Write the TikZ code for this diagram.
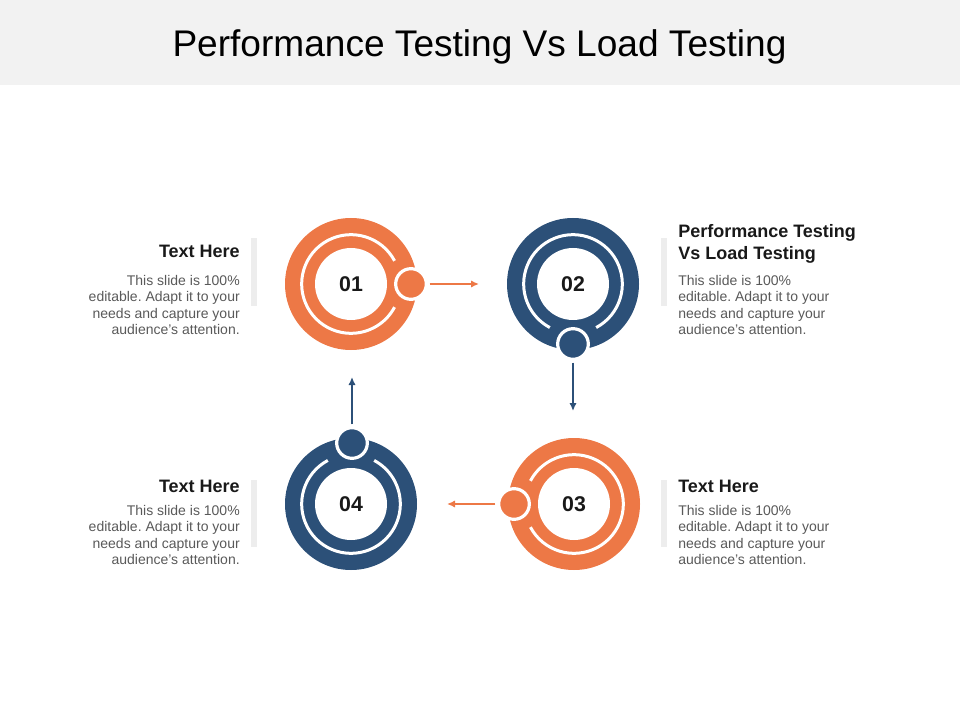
\documentclass[tikz,border=0pt]{standalone}
\usepackage{fontspec}
\setmainfont{Liberation Sans}
\usepackage{xcolor}
\usepackage{tikz}
\usetikzlibrary{calc}
\usetikzlibrary{arrows}
\usetikzlibrary{arrows.meta}
\usetikzlibrary{positioning}
\definecolor{ppOrange}{RGB}{237,120,70}
\definecolor{ppBlue}{RGB}{44,80,120}
\definecolor{ppTitle}{RGB}{242,242,242}
\definecolor{ppText}{RGB}{89,89,89}
\definecolor{ppBar}{RGB}{237,237,237}
\frenchspacing
\tikzset{>=latex}
\tikzstyle{ring} = [circle, inner sep = 0, minimum size = 99pt]
\tikzstyle{hole} = [circle, fill = white, inner sep = 0, minimum size = 54pt, font = \bfseries\fontsize{16}{16}\selectfont, text = black!90]
\tikzstyle{dot} = [circle, draw = white, line width = 2.4pt, inner sep = 0, minimum size = 23pt]
\tikzstyle{seam} = [draw = white, line width = 2.25pt]
\tikzstyle{link} = [-{Latex[length = 6pt, width = 5.5pt]}, line width = 1.5pt, shorten <= 1.2pt]
\tikzstyle{head} = [inner sep = 0, font = \bfseries\fontsize{13.5}{17.2}\selectfont, text = black!90]
\tikzstyle{body} = [inner sep = 0, font = \fontsize{10.5}{12.4}\selectfont, text = ppText]
\tikzstyle{bar} = [fill = ppBar]

\begin{document}
\begin{tikzpicture}[x = 0.75pt, y = 0.75pt]
\useasboundingbox (0, 0) rectangle (960, -720);
\fill [ppTitle] (0, 0) rectangle (960, -85);
\node [inner sep = 0, anchor = base, font = \fontsize{27.8}{33}\selectfont] (title) at (479.5, -57) {Performance Testing Vs Load Testing};

% rings
\node [ring, fill = ppOrange] (r1) at (351, -284) {};
\node [ring, fill = ppBlue] (r2) at (573, -284) {};
\node [ring, fill = ppOrange] (r3) at (574, -504) {};
\node [ring, fill = ppBlue] (r4) at (351, -504) {};
\draw [seam] (r1.center) ++(28:37pt) arc [start angle = 28, end angle = 332, radius = 37pt];
\draw [seam] (r2.center) ++(298:37pt) arc [start angle = -62, end angle = 242, radius = 37pt];
\draw [seam] (r3.center) ++(208:37pt) arc [start angle = 208, end angle = 512, radius = 37pt];
\draw [seam] (r4.center) ++(118:37pt) arc [start angle = 118, end angle = 422, radius = 37pt];
\node [hole] (n1) at (r1) {01};
\node [hole] (n2) at (r2) {02};
\node [hole] (n3) at (r3) {03};
\node [hole] (n4) at (r4) {04};

\node [dot, fill = ppOrange] (d1) at (411, -284) {};
\node [dot, fill = ppBlue] (d2) at (573, -344) {};
\node [dot, fill = ppOrange] (d3) at (514, -504) {};
\node [dot, fill = ppBlue] (d4) at (352, -443) {};
\coordinate (e1) at (479, -284);
\coordinate (e2) at (573, -411);
\coordinate (e3) at (447, -504);
\coordinate (e4) at (352, -377);
\draw [link, draw = ppOrange] (d1) -- (e1);
\draw [link, draw = ppBlue] (d2) -- (e2);
\draw [link, draw = ppOrange] (d3) -- (e3);
\draw [link, draw = ppBlue] (d4) -- (e4);

% text blocks (base = last line)
\fill [bar] (251, -238) rectangle (257, -306);
\fill [bar] (661, -238) rectangle (667, -306);
\fill [bar] (251, -480) rectangle (257, -547);
\fill [bar] (661, -480) rectangle (667, -547);
\node [head, anchor = base east] (h1) at (240, -258) {Text Here};
\node [body, align = right, anchor = base east] (b1) at (240, -334.6) {This slide is 100\%\\editable. Adapt it to your\\needs and capture your\\audience's attention.};
\node [head, align = left, anchor = base west] (h2) at (678, -260) {Performance Testing\\Vs Load Testing};
\node [body, align = left, anchor = base west] (b2) at (678, -334.6) {This slide is 100\%\\editable. Adapt it to your\\needs and capture your\\audience's attention.};
\node [head, anchor = base west] (h3) at (678, -492) {Text Here};
\node [body, align = left, anchor = base west] (b3) at (678, -564.6) {This slide is 100\%\\editable. Adapt it to your\\needs and capture your\\audience's attention.};
\node [head, anchor = base east] (h4) at (240, -492) {Text Here};
\node [body, align = right, anchor = base east] (b4) at (240, -564.6) {This slide is 100\%\\editable. Adapt it to your\\needs and capture your\\audience's attention.};
\end{tikzpicture}
\end{document}
